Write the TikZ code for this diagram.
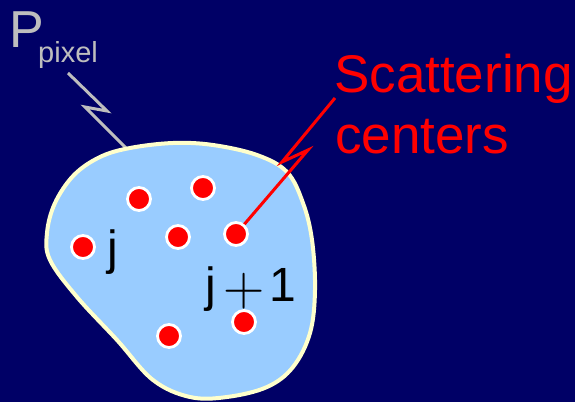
\documentclass[tikz,border=0pt]{standalone}
\usepackage{fontspec}
\usepackage{graphicx}
\setmainfont{Liberation Sans}
\definecolor{bgnavy}{RGB}{0,0,102}
\definecolor{blobfill}{RGB}{153,204,255}
\definecolor{blobline}{RGB}{255,255,204}
\definecolor{leadgray}{RGB}{190,190,190}
\definecolor{scred}{RGB}{255,0,0}
\tikzset{
  blob/.style={fill=blobfill, draw=blobline, line width=4pt},
  scat/.style={circle, fill=scred, draw=white, line width=2.8pt, minimum size=23pt, inner sep=0pt},
  grayzig/.style={draw=leadgray, line width=3pt, line join=miter},
  redzig/.style={draw=scred, line width=3pt, line join=miter},
  lbl/.style={inner sep=0pt, anchor=base west},
}
\begin{document}
\begin{tikzpicture}[x=1pt,y=-1pt]
\useasboundingbox (0,0) rectangle (575,402);
\fill[bgnavy] (0,0) rectangle (575,402);
% label P_pixel
\node[lbl, text=leadgray, font=\fontsize{52}{52}\selectfont] (P) at (9,47) {P};
\node[lbl, text=leadgray, font=\fontsize{29}{29}\selectfont] (pix) at (38,62) {pixel};
% gray lightning leader
\coordinate (g1) at (68,73);
\coordinate (g2) at (107,111);
\coordinate (g3) at (85,107);
\coordinate (g4) at (131,153);
\draw[grayzig] (g1) -- (g2) -- (g3) -- (g4);
% pixel blob
\path[blob] plot[smooth cycle, tension=0.6] coordinates {
  (130,148) (173,143) (213,145) (257,155) (287,172) (303,203) (312,240)
  (315,290) (310,333) (293,367) (267,387) (227,397) (190,397) (153,380)
  (117,340) (77,297) (50,260) (47,233) (55,203) (74,175) (100,157)};
% scattering centers label
\node[lbl, text=scred, font=\fontsize{53}{53}\selectfont] (sc1) at (334,92) {Scattering};
\node[lbl, text=scred, font=\fontsize{53}{53}\selectfont] (sc2) at (335,153) {centers};
% dots
\coordinate (d5pos) at (236,234);
\coordinate (r1) at (335,98);
\coordinate (r2) at (282,162);
\coordinate (r3) at (308,150);
\draw[redzig] (r1) -- (r2) -- (r3) -- (d5pos);
\node[scat] (d1) at (139,199) {};
\node[scat] (d2) at (203,188) {};
\node[scat] (d3) at (83,247) {};
\node[scat] (d4) at (178,237) {};
\node[scat] (d5) at (d5pos) {};
\node[scat] (d6) at (244,322) {};
\node[scat] (d7) at (169,336) {};
% labels j and j+1
\node[lbl, font=\fontsize{48}{48}\selectfont] (j) at (107,264) {j};
\node[lbl, font=\fontsize{48}{48}\selectfont] (jp) at (205,301) {j\hspace{8pt}\raisebox{-4pt}{\scalebox{2.3}{$+$}}\hspace{4pt}1};
\end{tikzpicture}
\end{document}
